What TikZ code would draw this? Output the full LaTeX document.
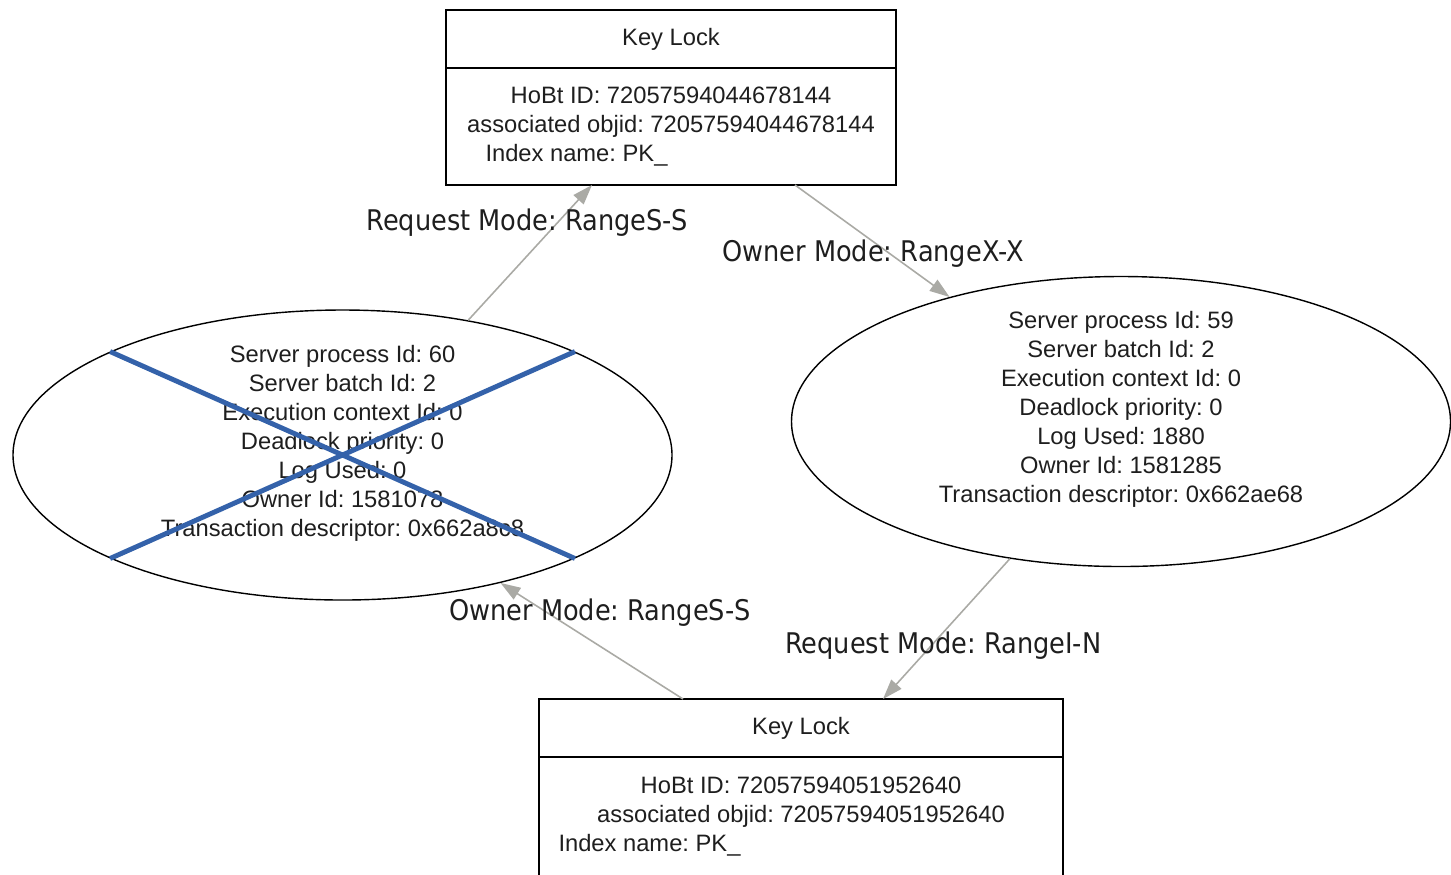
\documentclass[tikz,border=0pt]{standalone}
\usepackage{fontspec}
\setmainfont{Liberation Sans}
\newfontfamily\modefont[FakeStretch=0.9]{DejaVu Sans}
\usetikzlibrary{shapes,arrows.meta,positioning,calc}
\definecolor{linkgray}{RGB}{170,170,165}
\definecolor{crossblue}{RGB}{52,98,170}
\definecolor{inkgray}{RGB}{30,30,30}
\newcommand{\lockbody}[2]{HoBt ID: #1\\associated objid: #1\\\makebox[8.22cm][l]{\hspace*{#2}Index name: PK\_}}

\begin{document}
\frenchspacing
\begin{tikzpicture}[every node/.style={text=inkgray},
  lockhead/.style={draw,line width=1.1pt,outer sep=0pt,inner sep=0pt,minimum height=1.16cm,font=\fontsize{13.5}{16.5}\selectfont},
  lockbody/.style={draw,line width=1.1pt,outer sep=0pt,inner sep=0pt,align=center,font=\fontsize{13.5}{16.5}\selectfont},
  proc/.style={draw,ellipse,line width=0.8pt,inner sep=0pt,minimum width=13.18cm,minimum height=5.8cm},
  proctext/.style={align=center,font=\fontsize{13.5}{16.5}\selectfont},
  mode/.style={font=\modefont\fontsize{16.2}{19}\selectfont},
  link/.style={draw=linkgray,line width=0.9pt,-{Triangle[length=0.4cm,width=0.27cm]}}]
  \useasboundingbox (0,0) rectangle (29.02,-17.48);

  % key locks
  \node[lockhead,minimum width=9cm] (toplock) at (13.42,-0.78) {Key Lock};
  \node[lockbody,minimum width=9cm,minimum height=2.34cm,below=0pt of toplock] (topbody) {\lockbody{72057594044678144}{0.4cm}};
  \node[lockhead,minimum width=10.48cm] (botlock) at (16.02,-14.56) {Key Lock};
  \node[lockbody,minimum width=10.48cm,minimum height=2.4cm,below=0pt of botlock] (botbody) {\lockbody{72057594051952640}{-0.74cm}};

  % processes
  \node[proc] (p60) at (6.85,-9.10) {};
  \node[proctext] (p60txt) at ([yshift=0.24cm]p60.center) {Server process Id: 60\\Server batch Id: 2\\Execution context Id: 0\\Deadlock priority: 0\\Log Used: 0\\Owner Id: 1581078\\Transaction descriptor: 0x662a8c8};
  \node[proc] (p59) at (22.42,-8.43) {};
  \node[proctext] (p59txt) at ([yshift=0.24cm]p59.center) {Server process Id: 59\\Server batch Id: 2\\Execution context Id: 0\\Deadlock priority: 0\\Log Used: 1880\\Owner Id: 1581285\\Transaction descriptor: 0x662ae68};

  % deadlock victim
  \draw[crossblue,line width=2.8pt] (p60.156) -- (p60.-24) (p60.204) -- (p60.24);

  % requests and owners
  \path
    (p60.47) edge[link] node[mode,pos=0.72,xshift=-0.6cm] {Request Mode: RangeS-S} ([xshift=-1.58cm]topbody.south)
    ([xshift=2.48cm]topbody.south) edge[link] node[mode,pos=0.615,xshift=-0.34cm] {Owner Mode: RangeX-X} (p59.144)
    (p59.231) edge[link] node[mode,pos=0.62,xshift=0.24cm] {Request Mode: RangeI-N} ([xshift=1.64cm]botlock.north)
    ([xshift=-2.36cm]botlock.north) edge[link] node[mode,pos=0.74,xshift=1.04cm] {Owner Mode: RangeS-S} (p60.321);
\end{tikzpicture}
\end{document}
